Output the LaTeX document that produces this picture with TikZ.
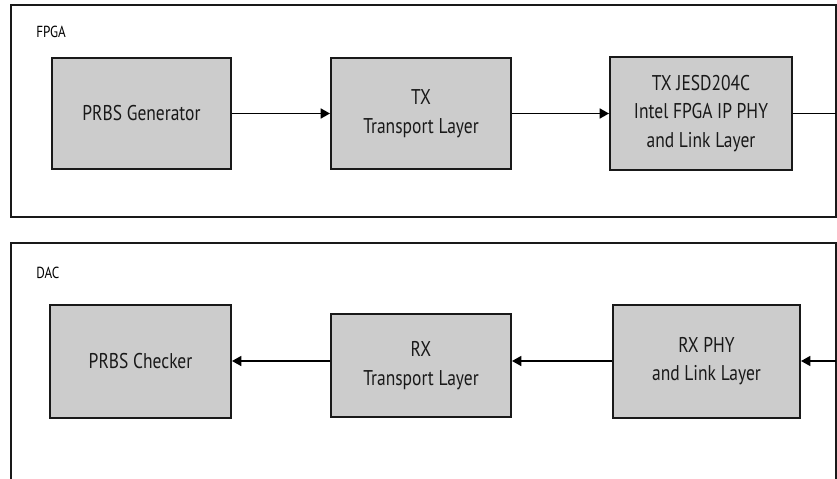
\documentclass[tikz,border=0pt]{standalone}
\usepackage{fontspec}
\setmainfont[FakeStretch=0.82]{PT Sans}
\usetikzlibrary{arrows.meta}
\definecolor{blockgray}{HTML}{CCCCCC}
\begin{document}
\begin{tikzpicture}[x=0.75pt,y=-0.75pt,
  frame/.style={draw=black!90, line width=1.5pt},
  block/.style={draw=black!90, fill=blockgray, line width=1.5pt, inner sep=0pt,
    align=center, text=black!90, font=\fontsize{16}{21.5}\selectfont},
  grouplabel/.style={anchor=west, inner sep=0pt, font=\fontsize{12}{14}\selectfont},
  flow/.style={line width=1.2pt, -{Triangle[length=7pt,width=7.5pt]}},
  plain/.style={line width=1.2pt}]
\clip (0,0) rectangle (837,478);
\useasboundingbox (0,0) rectangle (837,478);

% FPGA side
\draw[frame] (11,5) rectangle (836,217);
\node[grouplabel] (fpga) at (36,32) {FPGA};
\node[block, minimum width=134.25pt, minimum height=82.5pt] (gen) at (141.5,113.5) {PRBS Generator};
\node[block, minimum width=135pt, minimum height=83.25pt] (txt) at (421,113.5) {TX\\Transport Layer};
\node[block, minimum width=136.5pt, minimum height=84pt] (txl) at (701,113.5) {TX JESD204C\\Intel FPGA IP PHY\\and Link Layer};
\coordinate (txout) at (836,113.5);
\draw[flow] (gen.east) -- (txt.west);
\draw[flow] (txt.east) -- (txl.west);
\draw[plain] (txl.east) -- (txout);

% DAC side (frame runs past the lower edge)
\draw[frame] (11,500) -- (11,243) -- (836,243) -- (836,500);
\node[grouplabel] (dac) at (36,273) {DAC};
\node[block, minimum width=135.75pt, minimum height=84.75pt] (chk) at (140.5,361) {PRBS Checker};
\node[block, minimum width=135pt, minimum height=77.25pt] (rxt) at (421,365.5) {RX\\Transport Layer};
\node[block, minimum width=140.25pt, minimum height=84.75pt] (rxl) at (706.5,361) {RX PHY\\and Link Layer};
\coordinate (rxin) at (836,361);
\draw[flow] (rxin) -- (rxl.east);
\draw[flow] (rxl.west) -- (rxt.east |- rxl.west);
\draw[flow] (rxt.west |- chk.east) -- (chk.east);
\end{tikzpicture}
\end{document}
